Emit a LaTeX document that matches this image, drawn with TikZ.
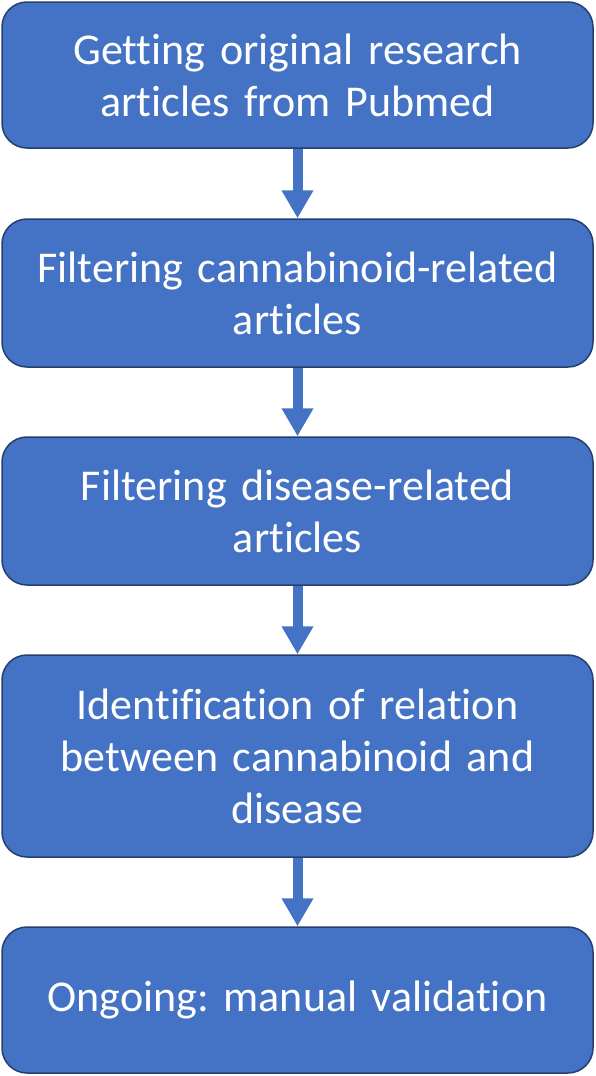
\documentclass[tikz,border=0pt]{standalone}
\usepackage{fontspec}
\setmainfont{Carlito}[Ligatures={NoCommon}]
\usepackage{tikz}
\usetikzlibrary{arrows.meta}
\definecolor{boxblue}{HTML}{4472C4}
\definecolor{boxline}{HTML}{24406F}
\def\Step#1#2#3#4{\node[stepbox,minimum height=#3pt] (#1) at (297.5,#2) {#4};}
\frenchspacing

\begin{document}
\begin{tikzpicture}[x=1pt,y=-1pt,
  stepbox/.style={draw=boxline,line width=1.5pt,fill=boxblue,rounded corners=25pt,
    minimum width=591pt,text width=560pt,align=center,text=white,
    font=\fontsize{44}{52}\selectfont,inner sep=0pt},
  flow/.style={draw=boxblue,line width=10pt,-{Triangle[width=30pt,length=28pt]}}]
  \useasboundingbox (0,0) rectangle (596,1076);
  \Step{pubmed}{75}{146}{Getting original research\\articles from Pubmed}
  \Step{cannab}{293}{148}{Filtering cannabinoid-related\\articles}
  \Step{disease}{511}{148}{Filtering disease-related\\articles}
  \Step{relation}{756}{202}{Identification of relation\\between cannabinoid and\\disease}
  \Step{valid}{1000}{146}{Ongoing: manual validation}
  % arrows between the steps
  \foreach \a/\b in {pubmed/cannab,cannab/disease,disease/relation,relation/valid}
    \draw[flow] (\a.south) -- (\b.north);
\end{tikzpicture}
\end{document}
